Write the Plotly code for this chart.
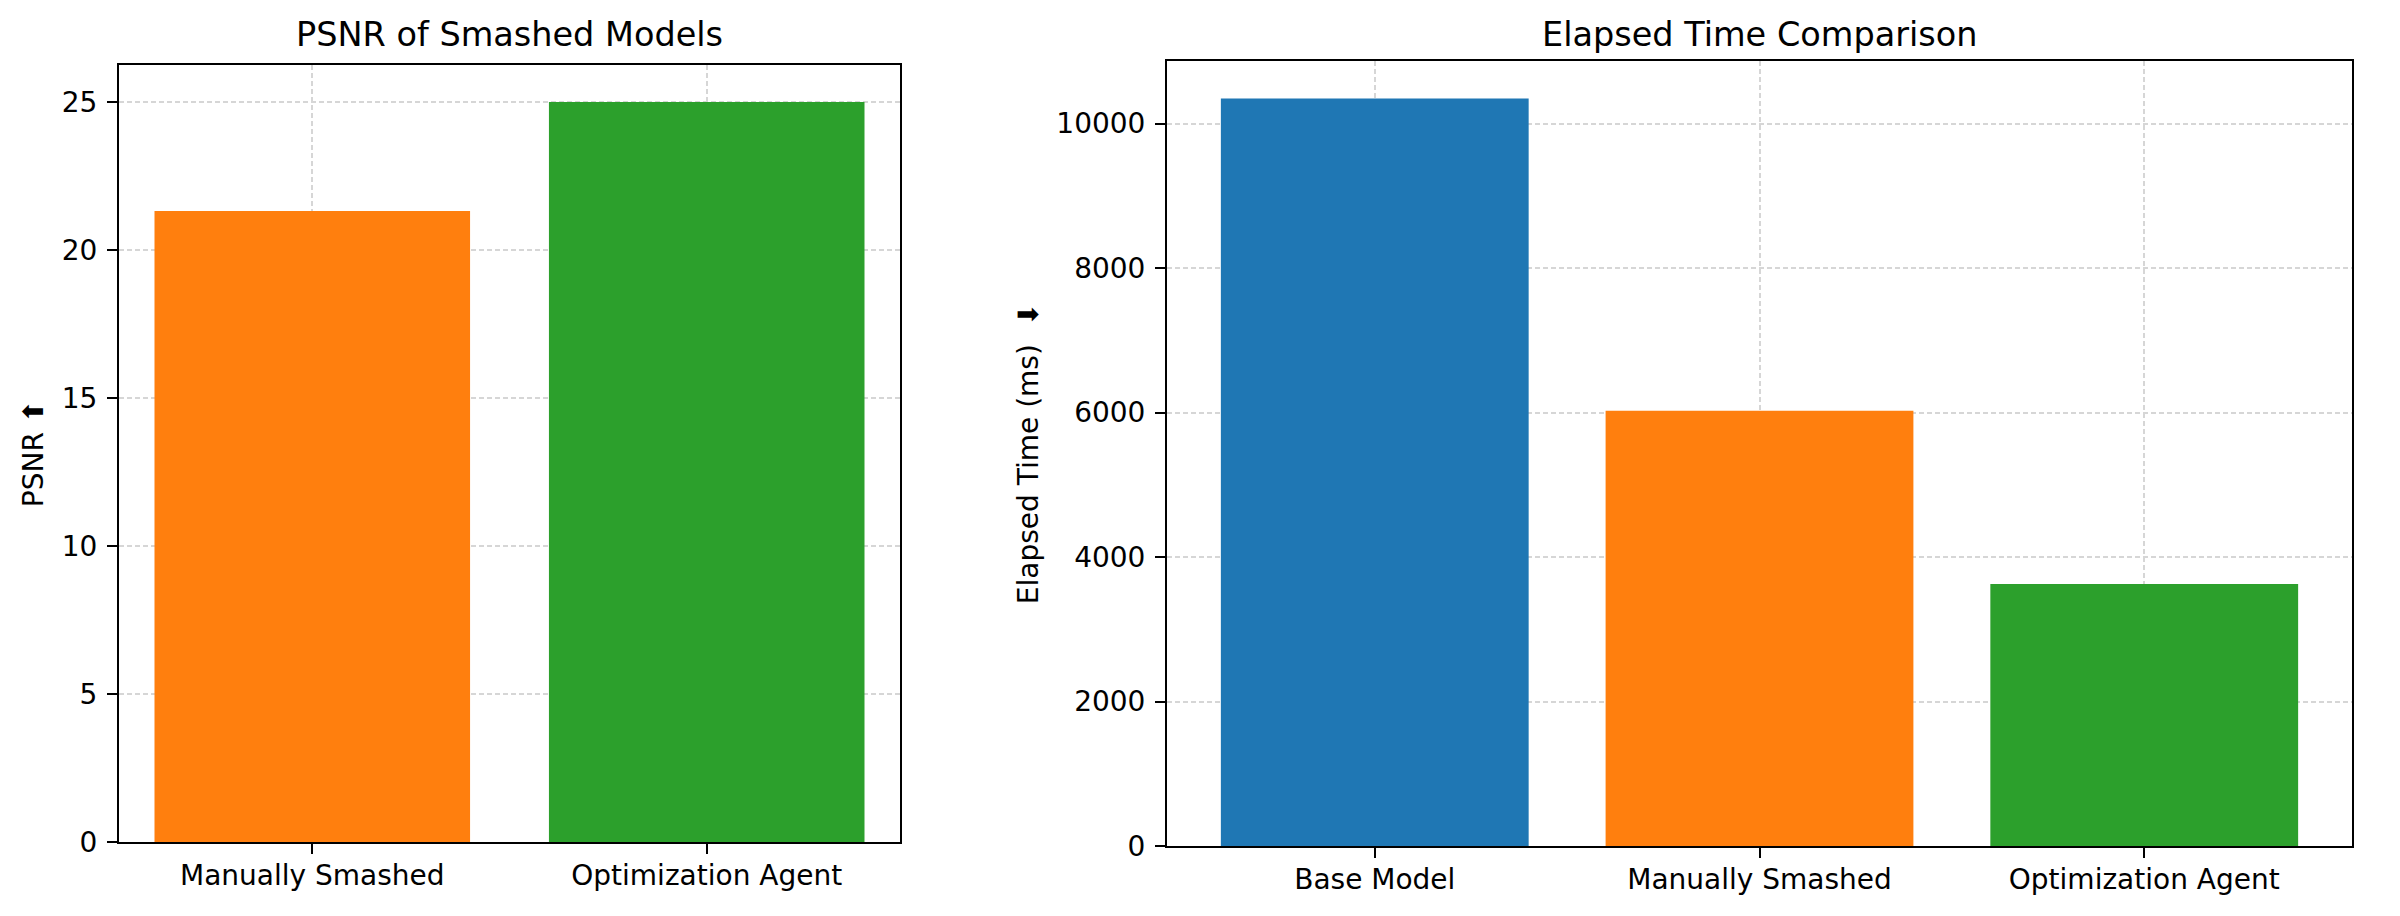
import plotly.graph_objs as go
from plotly.subplots import make_subplots

# PSNR panel
psnr_models = ['Manually Smashed', 'Optimization Agent']
psnr_values = [21.32, 25.0]
psnr_colors = ['#ff7f0e', '#2ca02c']

# elapsed time panel
time_models = ['Base Model', 'Manually Smashed', 'Optimization Agent']
time_values = [10348, 6024, 3628]
time_colors = ['#1f77b4', '#ff7f0e', '#2ca02c']

# the page body has an 8px margin, so the figure is drawn 8px in from the window edge
OFF = 8
W, H = 2400 - OFF, 916 - OFF
FONT = 'DejaVu Sans'
TICK_SIZE = 28
TITLE_SIZE = 33.5

fig = make_subplots(rows=1, cols=2,
                    subplot_titles=('PSNR of Smashed Models', 'Elapsed Time Comparison'))

fig.add_trace(go.Bar(x=psnr_models, y=psnr_values, marker=dict(color=psnr_colors, line=dict(width=0)),
                     showlegend=False), row=1, col=1)
fig.add_trace(go.Bar(x=time_models, y=time_values, marker=dict(color=time_colors, line=dict(width=0)),
                     showlegend=False), row=1, col=2)

# window-pixel boxes of the two axes (left, right, top, bottom)
left_box = (119, 900, 65, 842)
right_box = (1167, 2352, 61, 846)


def dom_x(box):
    return [(box[0] - OFF) / W, (box[1] - OFF) / W]


def dom_y(box):
    return [(H - (box[3] - OFF)) / H, (H - (box[2] - OFF)) / H]


axis_style = dict(
    showline=True, linecolor='black', linewidth=2, mirror=True,
    ticks='outside', ticklen=10, tickwidth=2, tickcolor='black',
    showgrid=True, gridcolor='#d6d6d6', gridwidth=1.5, griddash='5px,3px',
    zeroline=False,
    tickfont=dict(family=FONT, size=TICK_SIZE, color='black'),
)

fig.update_xaxes(axis_style, ticklabelstandoff=-3)
fig.update_yaxes(axis_style, ticklabelstandoff=4)

n1 = len(psnr_models)
n2 = len(time_models)
fig.update_xaxes(domain=dom_x(left_box), range=[-0.4 - 0.05 * (n1 - 0.2), n1 - 0.6 + 0.05 * (n1 - 0.2)], row=1, col=1)
fig.update_xaxes(domain=dom_x(right_box), range=[-0.4 - 0.05 * (n2 - 0.2), n2 - 0.6 + 0.05 * (n2 - 0.2)], row=1, col=2)

fig.update_yaxes(domain=dom_y(left_box), range=[0, max(psnr_values) * 1.05],
                 tickvals=[0, 5, 10, 15, 20, 25],
                 title=dict(text='PSNR ⬆', font=dict(family=FONT, size=TICK_SIZE, color='black'), standoff=10),
                 row=1, col=1)
fig.update_yaxes(domain=dom_y(right_box), range=[0, max(time_values) * 1.05],
                 tickvals=[0, 2000, 4000, 6000, 8000, 10000], tickformat='d',
                 title=dict(text='Elapsed Time (ms)  ⬇', font=dict(family=FONT, size=TICK_SIZE, color='black'), standoff=10),
                 row=1, col=2)

# subplot titles, centred over each axis box
for ann, box in zip(fig.layout.annotations, [left_box, right_box]):
    ann.update(x=((box[0] + box[1]) / 2 - OFF) / W, y=(H - (34 - OFF)) / H, xanchor='center', yanchor='middle',
               font=dict(family=FONT, size=TITLE_SIZE, color='black'))

fig.update_layout(
    width=W, height=H,
    margin=dict(l=0, r=0, t=0, b=0, autoexpand=False),
    bargap=0.2,
    paper_bgcolor='white', plot_bgcolor='white',
    font=dict(family=FONT, color='black'),
)

fig.write_html('out.html')
